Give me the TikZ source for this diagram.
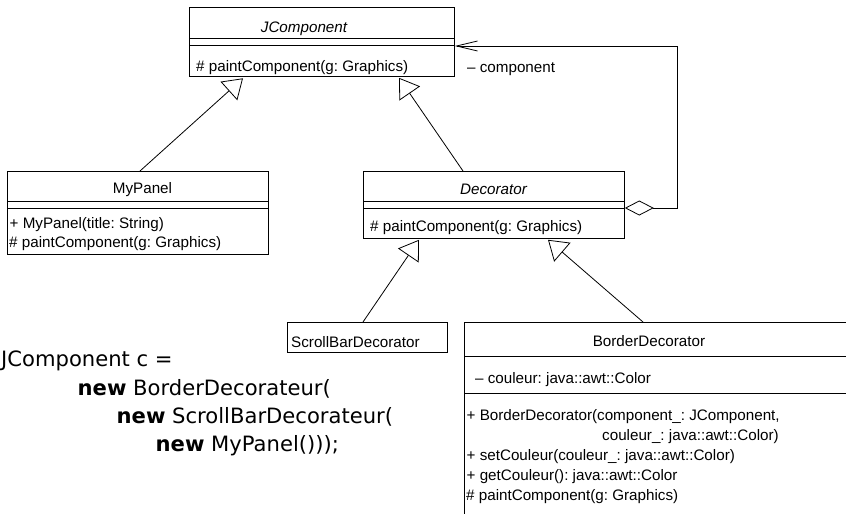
\documentclass[tikz,border=0pt]{standalone}
\usepackage{fontspec}
\newfontfamily\umlfont{Liberation Sans}
\newfontfamily\codefont{DejaVu Sans}
\usetikzlibrary{arrows.meta}
\frenchspacing
\tikzset{
  cls/.style={draw, line width=0.8pt, inner sep=0pt, anchor=north west},
  t/.style={inner sep=0pt, anchor=base west, font={\umlfont\fontsize{15.2}{18}\selectfont\frenchspacing}},
  tc/.style={t, anchor=base},
  ti/.style={tc, font={\umlfont\itshape\fontsize{15.2}{18}\selectfont}},
  code/.style={inner sep=0pt, anchor=base west, font={\codefont\fontsize{21.1}{25}\selectfont}},
  sep/.style={line width=0.8pt},
  gen/.style={line width=0.8pt, -{Triangle[open, length=19pt, width=25pt]}},
  agg/.style={line width=0.8pt, {Straight Barb[length=21pt, width=10pt]}-{Diamond[open, length=29pt, width=15pt]}},
}
\begin{document}
\begin{tikzpicture}[x=1pt, y=-1pt]
\useasboundingbox (0,0) rectangle (846,514);
\clip (0,0) rectangle (846,514);

% JComponent
\node[cls, minimum width=265pt, minimum height=69pt] (jc) at (189,7) {};
\draw[sep] ([shift={(0,31)}]jc.north west) -- ([shift={(0,31)}]jc.north east);
\draw[sep] ([shift={(0,38)}]jc.north west) -- ([shift={(0,38)}]jc.north east);
\node[ti] (jcname) at (304,32) {JComponent};
\node[t] (jcop) at (196,71) {\# paintComponent(g: Graphics)};

% MyPanel
\node[cls, minimum width=261pt, minimum height=83pt] (mp) at (7,171) {};
\draw[sep] ([shift={(0,30)}]mp.north west) -- ([shift={(0,30)}]mp.north east);
\draw[sep] ([shift={(0,37)}]mp.north west) -- ([shift={(0,37)}]mp.north east);
\node[tc] (mpname) at (142.5,193.5) {MyPanel};
\node[t] (mpop1) at (9.5,228) {+ MyPanel(title: String)};
\node[t] (mpop2) at (9,247.5) {\# paintComponent(g: Graphics)};

% Decorator
\node[cls, minimum width=261pt, minimum height=67pt] (dec) at (363,171) {};
\draw[sep] ([shift={(0,30)}]dec.north west) -- ([shift={(0,30)}]dec.north east);
\draw[sep] ([shift={(0,37)}]dec.north west) -- ([shift={(0,37)}]dec.north east);
\node[ti] (decname) at (493.5,194) {Decorator};
\node[t] (decop) at (370,231.5) {\# paintComponent(g: Graphics)};

% ScrollBarDecorator
\node[cls, minimum width=160pt, minimum height=30pt] (sb) at (287,322) {};
\node[t] (sbname) at (291,347) {ScrollBarDecorator};

% BorderDecorator
\node[cls, minimum width=400pt, minimum height=210pt] (bd) at (464,322) {};
\draw[sep] ([shift={(0,34)}]bd.north west) -- ([shift={(0,34)}]bd.north east);
\draw[sep] ([shift={(0,71)}]bd.north west) -- ([shift={(0,71)}]bd.north east);
\node[tc] (bdname) at (649,346) {BorderDecorator};
\node[t] (bdattr) at (475,383) {– couleur: java::awt::Color};
\node[t] (bdop1) at (466.5,420) {+ BorderDecorator(component\_: JComponent,};
\node[t] (bdop1b) at (602,440) {couleur\_: java::awt::Color)};
\node[t] (bdop2) at (466.5,460.5) {+ setCouleur(couleur\_: java::awt::Color)};
\node[t] (bdop3) at (466.5,480.5) {+ getCouleur(): java::awt::Color};
\node[t] (bdop4) at (466,500) {\# paintComponent(g: Graphics)};

% generalizations
\draw[gen] ([shift={(133,0)}]mp.north west) -- ([shift={(54,1.5)}]jc.south west);
\draw[gen] ([shift={(100,0)}]dec.north west) -- ([shift={(210,1)}]jc.south west);
\draw[gen] ([shift={(76,0)}]sb.north west) -- ([shift={(56,1)}]dec.south west);
\draw[gen] ([shift={(179,0)}]bd.north west) -- ([shift={(185,1)}]dec.south west);

% aggregation
\coordinate (aggcorner) at ([shift={(53,37)}]dec.north east);
\draw[agg] ([shift={(0,39)}]jc.north east) -| (aggcorner) -- ([shift={(0,37)}]dec.north east);
\node[t] (complabel) at (467,72) {– component};

% code
\node[code] (c1) at (1,366.5) {JComponent c =};
\node[code] (c2) at (77.5,395) {\textbf{new} BorderDecorateur(};
\node[code] (c3) at (116.5,423.3) {\textbf{new} ScrollBarDecorateur(};
\node[code] (c4) at (155.5,451.7) {\textbf{new} MyPanel()));};
\end{tikzpicture}
\end{document}
